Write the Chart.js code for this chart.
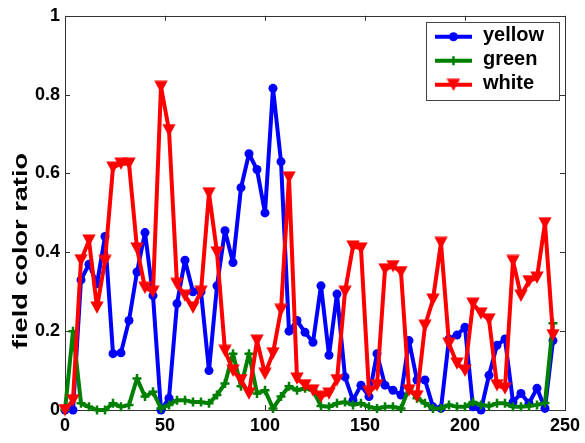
<!DOCTYPE html>
<html>
<head>
<meta charset="utf-8">
<script src="https://cdn.jsdelivr.net/npm/chart.js@4/dist/chart.umd.min.js"></script>
<style>
  html, body { margin: 0; padding: 0; background: #ffffff; }
  #wrap { width: 585px; height: 443px; }
</style>
</head>
<body>
<div id="wrap"><canvas id="chart" width="585" height="443"></canvas></div>
<script>
// Frame numbers along the horizontal axis
const frames = [0, 4, 8, 12, 16, 20, 24, 28, 32, 36, 40, 44, 48, 52, 56, 60, 64, 68, 72, 76,
  80, 84, 88, 92, 96, 100, 104, 108, 112, 116, 120, 124, 128, 132, 136, 140, 144, 148, 152, 156,
  160, 164, 168, 172, 176, 180, 184, 188, 192, 196, 200, 204, 208, 212, 216, 220, 224, 228, 232, 236,
  240, 244];

// Field color ratio per frame
const yellow = [0.0, 0.0, 0.33, 0.37, 0.32, 0.44, 0.143, 0.145, 0.227, 0.35,
  0.45, 0.29, 0.0, 0.03, 0.27, 0.38, 0.30, 0.30, 0.10, 0.315,
  0.455, 0.374, 0.564, 0.65, 0.61, 0.50, 0.816, 0.63, 0.20, 0.227,
  0.197, 0.172, 0.315, 0.139, 0.294, 0.084, 0.025, 0.063, 0.034, 0.143,
  0.063, 0.05, 0.038, 0.176, 0.076, 0.076, 0.008, 0.004, 0.18, 0.19,
  0.21, 0.008, 0.0, 0.088, 0.164, 0.18, 0.02, 0.042, 0.017, 0.055,
  0.004, 0.176];

const green = [0.0, 0.20, 0.017, 0.008, 0.0, 0.0, 0.017, 0.008, 0.013, 0.08,
  0.034, 0.046, 0.004, 0.013, 0.025, 0.025, 0.02, 0.02, 0.017, 0.038,
  0.067, 0.143, 0.06, 0.143, 0.042, 0.05, 0.004, 0.034, 0.06, 0.05,
  0.055, 0.05, 0.01, 0.008, 0.017, 0.02, 0.013, 0.017, 0.008, 0.004,
  0.008, 0.008, 0.004, 0.055, 0.03, 0.017, 0.004, 0.004, 0.013, 0.008,
  0.008, 0.02, 0.013, 0.01, 0.017, 0.017, 0.008, 0.008, 0.01, 0.013,
  0.018, 0.22];

const white = [0.0, 0.025, 0.38, 0.43, 0.26, 0.378, 0.615, 0.625, 0.625, 0.41,
  0.31, 0.30, 0.82, 0.71, 0.32, 0.29, 0.26, 0.30, 0.55, 0.40,
  0.15, 0.10, 0.076, 0.042, 0.176, 0.092, 0.144, 0.254, 0.59, 0.08,
  0.063, 0.05, 0.034, 0.042, 0.076, 0.30, 0.415, 0.41, 0.046, 0.063,
  0.357, 0.365, 0.35, 0.05, 0.035, 0.214, 0.28, 0.424, 0.168, 0.118,
  0.10, 0.27, 0.245, 0.23, 0.063, 0.055, 0.378, 0.29, 0.327, 0.336,
  0.474, 0.19];

// Axis ticks and labels
const xTicks = [0, 50, 100, 150, 200, 250];
const yTicks = [0, 0.2, 0.4, 0.6, 0.8, 1];
const yTickLabels = ['0', '0.2', '0.4', '0.6', '0.8', '1'];
const yTitle = 'field color ratio';
const seriesNames = ['yellow', 'green', 'white'];

const BLUE = '#0000ff';
const GREEN = '#008000';
const RED = '#ff0000';
const FONT = '"Liberation Sans", Arial, Helvetica, sans-serif';

// Downward-pointing triangle marker, centred on its bounding box
function downTriangle(color, w, h) {
  const c = document.createElement('canvas');
  c.width = w; c.height = h;
  const g = c.getContext('2d');
  g.fillStyle = color;
  g.beginPath();
  g.moveTo(0.3, 0.5);
  g.lineTo(w - 0.3, 0.5);
  g.lineTo(w / 2, h - 0.3);
  g.closePath();
  g.fill();
  return c;
}
const triMarker = downTriangle(RED, 14, 13);

function toPoints(values) {
  return values.map((v, i) => ({ x: frames[i], y: v }));
}

// Marker drawing for the legend samples
function drawMarker(ctx, kind, color, x, y) {
  ctx.save();
  if (kind === 'circle') {
    ctx.fillStyle = color;
    ctx.beginPath();
    ctx.arc(x, y, 4.5, 0, Math.PI * 2);
    ctx.fill();
  } else if (kind === 'cross') {
    ctx.strokeStyle = color;
    ctx.lineWidth = 2.5;
    ctx.beginPath();
    ctx.moveTo(x - 4.5, y); ctx.lineTo(x + 4.5, y);
    ctx.moveTo(x, y - 4.5); ctx.lineTo(x, y + 4.5);
    ctx.stroke();
  } else {
    ctx.drawImage(triMarker, x - triMarker.width / 2, y - triMarker.height / 2);
  }
  ctx.restore();
}

// Axes box with inward ticks on all four sides, axis title and legend
const axesBox = {
  id: 'axesBox',
  beforeDatasetsDraw(chart) {
    const { ctx, chartArea: a, scales } = chart;
    ctx.save();
    ctx.strokeStyle = '#333333';
    ctx.lineWidth = 1;
    ctx.strokeRect(Math.round(a.left) + 0.5, Math.round(a.top) + 0.5,
      Math.round(a.right - a.left), Math.round(a.bottom - a.top));
    const len = 5;
    ctx.beginPath();
    xTicks.forEach(v => {
      const px = Math.round(scales.x.getPixelForValue(v)) + 0.5;
      ctx.moveTo(px, a.bottom); ctx.lineTo(px, a.bottom - len);
      ctx.moveTo(px, a.top); ctx.lineTo(px, a.top + len);
    });
    yTicks.forEach(v => {
      const py = Math.round(scales.y.getPixelForValue(v)) + 0.5;
      ctx.moveTo(a.left, py); ctx.lineTo(a.left + len, py);
      ctx.moveTo(a.right, py); ctx.lineTo(a.right - len, py);
    });
    ctx.stroke();
    ctx.restore();
  },
  afterDraw(chart) {
    const { ctx, chartArea: a } = chart;
    // vertical axis title
    ctx.save();
    ctx.translate(21, 251);
    ctx.rotate(-Math.PI / 2);
    ctx.font = 'bold 20px ' + FONT;
    ctx.fillStyle = '#000000';
    ctx.textAlign = 'center';
    ctx.textBaseline = 'middle';
    const w = ctx.measureText(yTitle).width;
    ctx.scale(196 / w, 1);
    ctx.fillText(yTitle, 0, 0);
    ctx.restore();

    // legend box in the upper-right corner
    const boxR = a.right - 6, boxT = a.top + 6;
    const boxW = 133, boxH = 78;
    const boxL = boxR - boxW;
    ctx.save();
    ctx.fillStyle = '#ffffff';
    ctx.fillRect(boxL, boxT, boxW, boxH);
    ctx.strokeStyle = '#444444';
    ctx.lineWidth = 1;
    ctx.strokeRect(Math.round(boxL) + 0.5, Math.round(boxT) + 0.5, boxW, boxH);
    const kinds = ['circle', 'cross', 'triangle'];
    const colors = [BLUE, GREEN, RED];
    ctx.font = 'bold 20px ' + FONT;
    ctx.textBaseline = 'middle';
    ctx.textAlign = 'left';
    seriesNames.forEach((name, i) => {
      const y = boxT + 15 + i * 24;
      ctx.strokeStyle = colors[i];
      ctx.lineWidth = 4;
      ctx.beginPath();
      ctx.moveTo(boxL + 9, y);
      ctx.lineTo(boxL + 46, y);
      ctx.stroke();
      drawMarker(ctx, kinds[i], colors[i], boxL + 27.5, y);
      ctx.fillStyle = '#000000';
      ctx.fillText(name, boxL + 57, y - 1);
    });
    ctx.restore();
  }
};

new Chart(document.getElementById('chart'), {
  type: 'line',
  data: {
    datasets: [
      {
        label: seriesNames[0], data: toPoints(yellow),
        borderColor: BLUE, backgroundColor: BLUE, borderWidth: 4,
        pointStyle: 'circle', pointRadius: 4.5, pointBorderWidth: 0,
        pointBackgroundColor: BLUE, tension: 0, clip: false, order: 3
      },
      {
        label: seriesNames[1], data: toPoints(green),
        borderColor: GREEN, backgroundColor: GREEN, borderWidth: 4,
        pointStyle: 'cross', pointRadius: 4.5, pointBorderWidth: 2.5,
        pointBorderColor: GREEN, tension: 0, clip: false, order: 2
      },
      {
        label: seriesNames[2], data: toPoints(white),
        borderColor: RED, backgroundColor: RED, borderWidth: 4,
        pointStyle: triMarker, pointRadius: 7, pointBorderWidth: 0,
        tension: 0, clip: false, order: 1
      }
    ]
  },
  options: {
    responsive: false,
    animation: false,
    devicePixelRatio: 1,
    layout: { padding: { top: 13, right: 19, left: 0, bottom: 0 } },
    plugins: { legend: { display: false }, tooltip: { enabled: false }, title: { display: false } },
    elements: { line: { borderJoinStyle: 'round', borderCapStyle: 'round' } },
    scales: {
      x: {
        type: 'linear', min: 0, max: 250,
        grid: { display: false, drawTicks: false },
        border: { display: false },
        afterBuildTicks(scale) { scale.ticks = xTicks.map(v => ({ value: v })); },
        afterFit(scale) { scale.height = 33; },
        ticks: {
          padding: 5, color: '#000000', maxRotation: 0, autoSkip: false,
          font: { family: FONT, size: 18, weight: 'bold' },
          callback: v => String(v)
        }
      },
      y: {
        type: 'linear', min: 0, max: 1,
        grid: { display: false, drawTicks: false },
        border: { display: false },
        afterBuildTicks(scale) { scale.ticks = yTicks.map(v => ({ value: v })); },
        afterFit(scale) { scale.width = 65; },
        ticks: {
          padding: 5, color: '#000000', autoSkip: false,
          font: { family: FONT, size: 18, weight: 'bold' },
          callback: (v, i) => yTickLabels[i]
        }
      }
    }
  },
  plugins: [axesBox]
});
</script>
</body>
</html>
